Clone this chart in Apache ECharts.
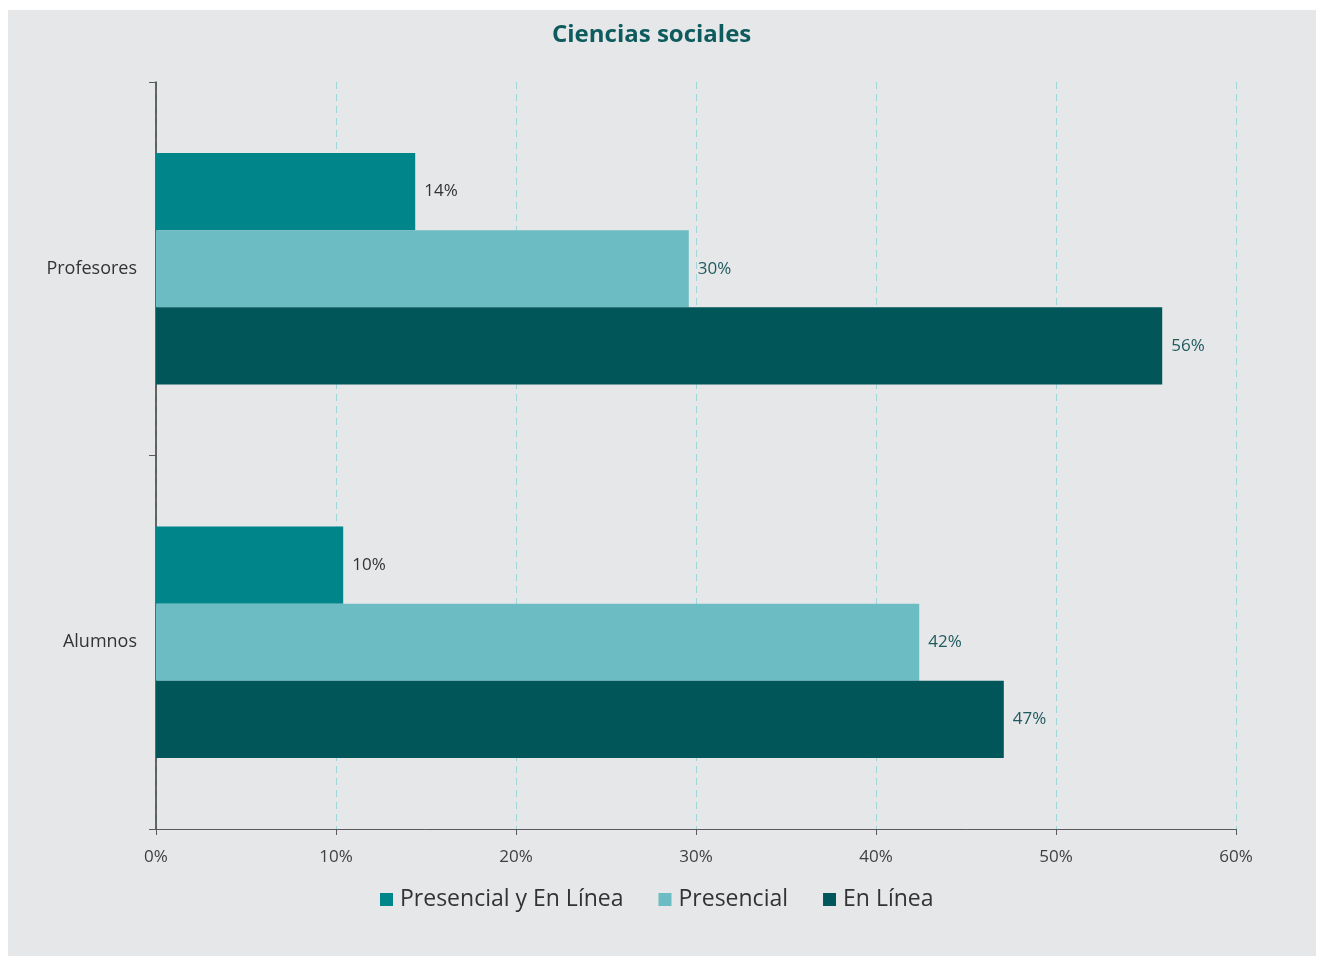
<!DOCTYPE html>
<html>
<head>
<meta charset="utf-8">
<script src="https://cdn.jsdelivr.net/npm/echarts@6/dist/echarts.min.js"></script>
<style>
html,body{margin:0;padding:0;background:#ffffff;}
#wrap{position:absolute;left:8px;top:10px;width:1308px;height:946px;background:#e6e7e9;}
#chart{position:absolute;left:0;top:0;width:1308px;height:946px;}
</style>
</head>
<body>
<div id="wrap"><div id="chart"></div></div>
<script>
const categories = ['Alumnos', 'Profesores'];
const seriesNames = ['Presencial y En Línea', 'Presencial', 'En Línea'];
const valsPresencialYEnLinea = [10.4, 14.4];
const valsPresencial = [42.4, 29.6];
const valsEnLinea = [47.1, 55.9];
const xTicks = [0, 10, 20, 30, 40, 50, 60];

const colors = {
  'Presencial y En Línea': '#00868a',
  'Presencial': '#6bbdc3',
  'En Línea': '#01565a'
};
const labelColors = {
  'Presencial y En Línea': '#333333',
  'Presencial': '#1f5a5e',
  'En Línea': '#1f5a5e'
};
const dataMap = {
  'Presencial y En Línea': valsPresencialYEnLinea,
  'Presencial': valsPresencial,
  'En Línea': valsEnLinea
};
const font = '"Open Sans", "Noto Sans", sans-serif';

const chart = echarts.init(document.getElementById('chart'));
chart.setOption({
  animation: false,
  backgroundColor: 'transparent',
  title: {
    text: 'Ciencias sociales',
    left: 539,
    top: 8,
    textStyle: {fontFamily: font, fontSize: 24, fontWeight: 'bold', color: '#0e5b5d'}
  },
  legend: {
    data: seriesNames,
    left: 367,
    top: 873,
    itemWidth: 13,
    itemHeight: 13,
    itemGap: 35,
    icon: 'rect',
    textStyle: {fontFamily: font, fontSize: 23, color: '#333333', padding: [0, 0, 0, 2]}
  },
  grid: {left: 148, right: 80, top: 72, bottom: 127, containLabel: false},
  xAxis: {
    type: 'value',
    min: 0,
    max: 60,
    interval: 10,
    axisLine: {show: true, lineStyle: {color: '#5a5a5a', width: 1}},
    axisTick: {show: true, length: 6, lineStyle: {color: '#5a5a5a'}},
    axisLabel: {
      fontFamily: font, fontSize: 17, color: '#404040', margin: 20,
      formatter: v => xTicks.includes(v) ? v + '%' : ''
    },
    splitLine: {show: true, lineStyle: {color: '#9fd6da', type: [7, 5], width: 1}}
  },
  yAxis: {
    type: 'category',
    data: categories,
    axisLine: {show: true, lineStyle: {color: '#3a3a3a', width: 1.5}},
    axisTick: {show: true, length: 7, lineStyle: {color: '#5a5a5a'}},
    axisLabel: {fontFamily: font, fontSize: 18, color: '#333333', margin: 19}
  },
  series: seriesNames.map(name => ({
    name: name,
    type: 'bar',
    data: dataMap[name],
    barGap: '0%',
    barCategoryGap: '38%',
    itemStyle: {color: colors[name]},
    label: {
      show: true,
      position: 'right',
      distance: 9,
      fontFamily: font,
      fontSize: 17,
      color: labelColors[name],
      formatter: p => Math.round(p.value) + '%'
    }
  }))
});
</script>
</body>
</html>
